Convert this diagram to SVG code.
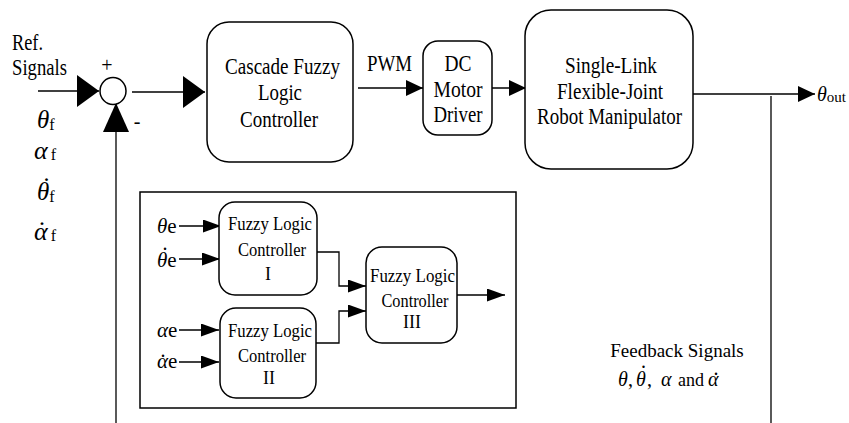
<svg xmlns="http://www.w3.org/2000/svg" width="849" height="423" viewBox="0 0 849 423" font-family="'Liberation Serif', serif">
<style>
.box{fill:#fff;stroke:#000;stroke-width:1.5}
.ln{fill:none;stroke:#000;stroke-width:1.3}
text{font-family:'Liberation Serif',serif;fill:#000}
.t{font-size:23px;text-anchor:middle}
.s{font-size:18px;text-anchor:middle}
.i{font-style:italic}
.d{text-anchor:middle}
</style>
<defs>
<marker id="big" viewBox="0 0 22 32" markerWidth="22" markerHeight="32" refX="22" refY="16" orient="auto" markerUnits="userSpaceOnUse"><path d="M0,0 L22,16 L0,32 z" fill="#000"/></marker>
<marker id="bigv" viewBox="0 0 29 26" markerWidth="29" markerHeight="26" refX="29" refY="13" orient="auto" markerUnits="userSpaceOnUse"><path d="M0,0 L29,13 L0,26 z" fill="#000"/></marker>
<marker id="mid" viewBox="0 0 17 16" markerWidth="17" markerHeight="16" refX="17" refY="8" orient="auto" markerUnits="userSpaceOnUse"><path d="M0,0 L17,8 L0,16 z" fill="#000"/></marker>
<marker id="sm" viewBox="0 0 18 13" markerWidth="18" markerHeight="13" refX="18" refY="6.5" orient="auto" markerUnits="userSpaceOnUse"><path d="M0,0 L18,6.5 L0,13 z" fill="#000"/></marker>
</defs>

<g id="connectors">
<line class="ln" x1="38" y1="91" x2="99" y2="91" marker-end="url(#big)"/>
<line class="ln" x1="132" y1="92" x2="205" y2="92" marker-end="url(#big)"/>
<line class="ln" x1="116" y1="423" x2="116" y2="103" marker-end="url(#bigv)"/>
<line class="ln" x1="358" y1="88" x2="423" y2="88" marker-end="url(#mid)"/>
<line class="ln" x1="492" y1="88" x2="526" y2="88" marker-end="url(#mid)"/>
<line class="ln" x1="693" y1="94" x2="815" y2="94" marker-end="url(#mid)"/>
<line class="ln" x1="771" y1="96" x2="771" y2="423"/>
<line class="ln" x1="179" y1="226" x2="221" y2="226" marker-end="url(#sm)"/>
<line class="ln" x1="179" y1="259" x2="220" y2="259" marker-end="url(#sm)"/>
<line class="ln" x1="179" y1="330" x2="219" y2="330" marker-end="url(#sm)"/>
<line class="ln" x1="179" y1="362" x2="219" y2="362" marker-end="url(#sm)"/>
<polyline class="ln" points="317,252 339,252 339,286 366,286" marker-end="url(#sm)"/>
<polyline class="ln" points="316,343 339,343 339,311 366,311" marker-end="url(#sm)"/>
<line class="ln" x1="457" y1="295" x2="505" y2="295" marker-end="url(#sm)"/>
</g>

<g id="ref-signals">
<text x="12" y="50" font-size="23" textLength="31" lengthAdjust="spacingAndGlyphs">Ref.</text>
<text x="12" y="75" font-size="23" textLength="55" lengthAdjust="spacingAndGlyphs">Signals</text>
<text x="37" y="128" font-size="25"><tspan class="i">θ</tspan><tspan font-size="16" dy="2">f</tspan></text>
<text x="34" y="159" font-size="26"><tspan class="i">α</tspan><tspan font-size="16" dx="3" dy="1">f</tspan></text>
<text x="37" y="200" font-size="25"><tspan class="i">θ</tspan><tspan font-size="16" dy="2">f</tspan><tspan font-size="24" x="46.5" y="181" text-anchor="middle">.</tspan></text>
<text x="34" y="240" font-size="26"><tspan class="i">α</tspan><tspan font-size="16" dx="3" dy="1">f</tspan><tspan font-size="24" x="42" y="225" text-anchor="middle">.</tspan></text>
</g>

<g id="sum">
<ellipse cx="113" cy="91" rx="13" ry="13.5" fill="#fff" stroke="#000" stroke-width="1.5"/>
<text x="107" y="72" font-size="20" text-anchor="middle">+</text>
<text x="137" y="128" font-size="20" text-anchor="middle">-</text>
</g>

<g id="cascade">
<rect class="box" x="207" y="22" width="146" height="140" rx="22"/>
<text class="t" x="282.5" y="74" textLength="115" lengthAdjust="spacingAndGlyphs">Cascade Fuzzy</text>
<text class="t" x="280" y="100" textLength="44" lengthAdjust="spacingAndGlyphs">Logic</text>
<text class="t" x="279" y="127" textLength="78" lengthAdjust="spacingAndGlyphs">Controller</text>
</g>

<g id="pwm-label">
<text class="t" x="389.5" y="71" textLength="45" lengthAdjust="spacingAndGlyphs">PWM</text>
</g>

<g id="dc-driver">
<rect class="box" x="423" y="41" width="69" height="94" rx="15"/>
<text class="t" x="458" y="71" textLength="27" lengthAdjust="spacingAndGlyphs">DC</text>
<text class="t" x="458" y="97" textLength="49" lengthAdjust="spacingAndGlyphs">Motor</text>
<text class="t" x="458" y="122" textLength="49" lengthAdjust="spacingAndGlyphs">Driver</text>
</g>

<g id="robot">
<rect class="box" x="525" y="10" width="168" height="159" rx="26"/>
<text class="t" x="611" y="73" textLength="92" lengthAdjust="spacingAndGlyphs">Single-Link</text>
<text class="t" x="610" y="99" textLength="106" lengthAdjust="spacingAndGlyphs">Flexible-Joint</text>
<text class="t" x="609.5" y="124" textLength="145" lengthAdjust="spacingAndGlyphs">Robot Manipulator</text>
</g>

<g id="output-label">
<text x="817" y="101" font-size="20"><tspan class="i">θ</tspan><tspan font-size="15" dy="1">out</tspan></text>
</g>

<g id="feedback-label">
<text x="677" y="357" font-size="19" text-anchor="middle">Feedback Signals</text>
<text y="386" font-size="20"><tspan class="i" x="618">θ</tspan><tspan x="628">,</tspan><tspan class="i" x="636">θ</tspan><tspan x="647">,</tspan><tspan class="i" x="661">α</tspan><tspan x="678" font-size="18">and</tspan><tspan class="i" x="708">α</tspan><tspan x="643.5" y="368" text-anchor="middle">.</tspan><tspan x="716" y="375" text-anchor="middle">.</tspan></text>
</g>

<g id="inner-frame">
<rect x="140" y="192" width="376" height="216" fill="none" stroke="#000" stroke-width="1.5"/>
</g>

<g id="inner-inputs">
<text x="157" y="233" font-size="21"><tspan class="i">θ</tspan>e</text>
<text x="157" y="267" font-size="21"><tspan class="i">θ</tspan>e<tspan font-size="20" x="165" y="250" text-anchor="middle">.</tspan></text>
<text x="157" y="337" font-size="21"><tspan class="i">α</tspan>e</text>
<text x="157" y="368" font-size="21"><tspan class="i">α</tspan>e<tspan font-size="20" x="163" y="357" text-anchor="middle">.</tspan></text>
</g>

<g id="flc1">
<rect class="box" x="219" y="202" width="98" height="93" rx="16"/>
<text class="s" x="270" y="230" textLength="84" lengthAdjust="spacingAndGlyphs">Fuzzy Logic</text>
<text class="s" x="272" y="256" textLength="68" lengthAdjust="spacingAndGlyphs">Controller</text>
<text class="s" x="268" y="280">I</text>
</g>

<g id="flc2">
<rect class="box" x="220" y="308" width="96" height="90" rx="16"/>
<text class="s" x="270" y="337" textLength="84" lengthAdjust="spacingAndGlyphs">Fuzzy Logic</text>
<text class="s" x="272" y="362" textLength="68" lengthAdjust="spacingAndGlyphs">Controller</text>
<text class="s" x="269" y="384">II</text>
</g>

<g id="flc3">
<rect class="box" x="366" y="247" width="91" height="96" rx="16"/>
<text class="s" x="412.5" y="282" textLength="85" lengthAdjust="spacingAndGlyphs">Fuzzy Logic</text>
<text class="s" x="415" y="307" textLength="67" lengthAdjust="spacingAndGlyphs">Controller</text>
<text class="s" x="412" y="328">III</text>
</g>
</svg>
